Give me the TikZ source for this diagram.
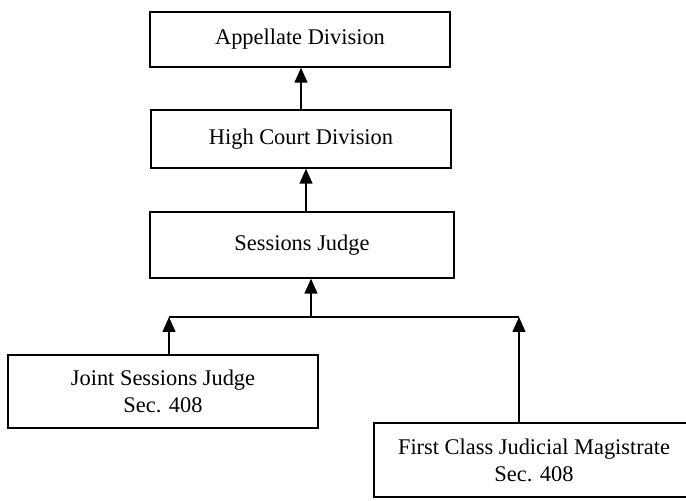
\documentclass[tikz,border=0pt]{standalone}
\usepackage{fontspec}
\setmainfont{Liberation Serif}
\usetikzlibrary{arrows.meta}
\tikzset{
  court/.style={draw, line width=0.7pt, align=center, inner sep=0pt,
    font=\fontsize{11.2}{13.5}\selectfont},
  uparrow/.style={line width=0.7pt, -{Triangle[width=6.5pt,length=7.5pt]}}
}
\begin{document}
\begin{tikzpicture}[x=0.5pt, y=-0.5pt]
    \useasboundingbox[fill=white] (0,0) rectangle (686,501);
    \clip (0,0) rectangle (686,501);
    % Courts
    \node[court, minimum width=150pt, minimum height=27.5pt] (app) at (300,39.5) {Appellate Division};
    \node[court, minimum width=150pt, minimum height=29pt] (hcd) at (301,139) {High Court Division};
    \node[court, minimum width=152pt, minimum height=33pt] (sj) at (302,245) {Sessions Judge};
    \node[court, minimum width=155pt, minimum height=36.5pt] (jsj) at (163,391.5) {Joint Sessions Judge\\Sec. 408};
    \node[court, minimum width=160pt, minimum height=37pt] (fcm) at (534,460) {First Class Judicial Magistrate\\Sec. 408};
    % Appeals upward
    \draw[uparrow] (hcd.north) -- (hcd.north |- app.south);
    \draw[uparrow] ([xshift=2pt]sj.north) -- ([xshift=2pt]sj.north |- hcd.south);
    \coordinate (jn) at (311,317);
    \coordinate (lt) at (169,317);
    \coordinate (rt) at (519,317);
    \draw[uparrow] (jn) -- (jn |- sj.south);
    \draw[line width=0.7pt] (lt) -- (rt);
    \draw[uparrow] (lt |- jsj.north) -- (lt);
    \draw[uparrow] (rt |- fcm.north) -- (rt);
\end{tikzpicture}
\end{document}
